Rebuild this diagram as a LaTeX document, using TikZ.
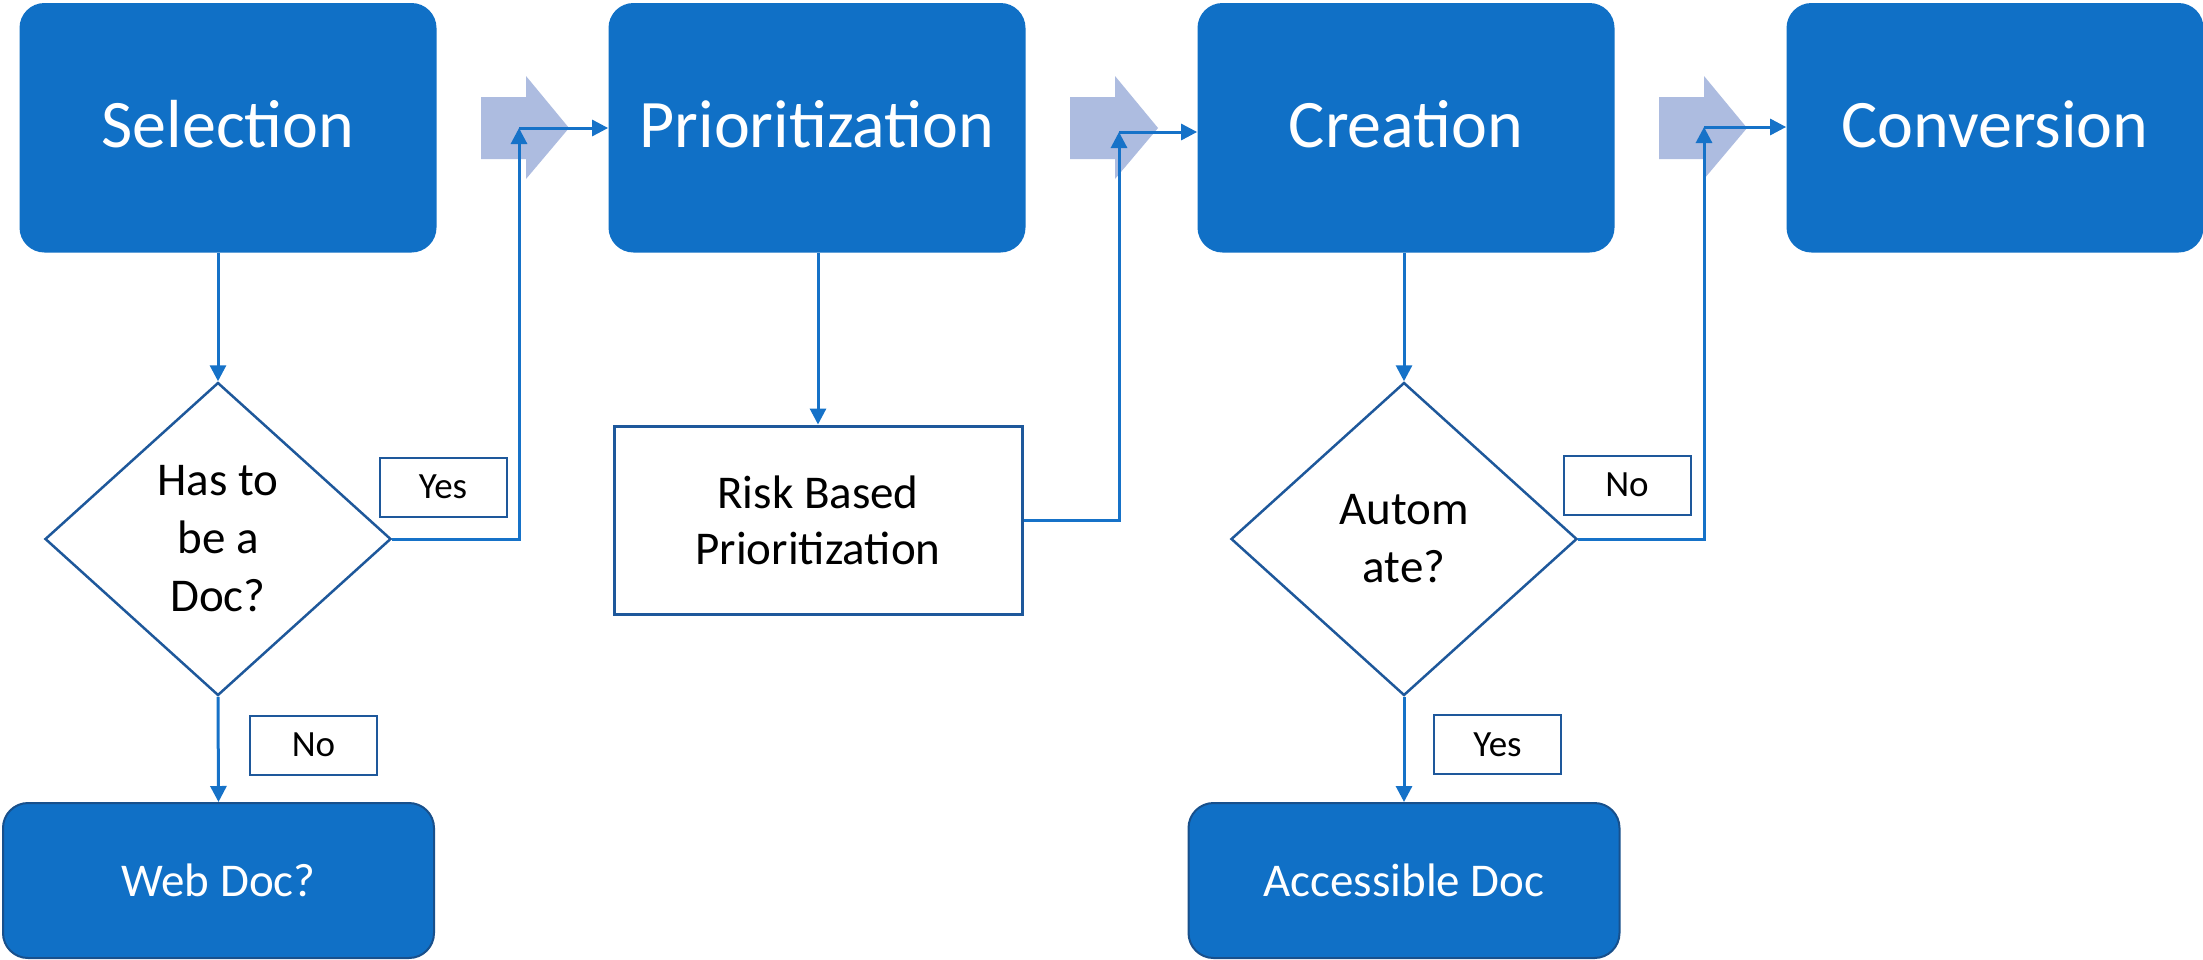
\documentclass[tikz,border=0pt]{standalone}
\usepackage{fontspec}
\setmainfont{Carlito}
\usetikzlibrary{shapes.geometric,arrows.meta}
\definecolor{boxblue}{RGB}{16,112,198}
\definecolor{linkblue}{RGB}{22,114,200}
\definecolor{edgeblue}{RGB}{30,88,155}
\definecolor{chev}{RGB}{173,188,224}
\definecolor{darkedge}{RGB}{24,80,140}
\begin{document}
\begin{tikzpicture}[x=0.5pt,y=-0.5pt,
  mainbox/.style={rectangle, rounded corners=12.5pt, fill=boxblue, text=white, minimum width=208.5pt, minimum height=124.75pt, inner sep=0pt, text depth=4pt, font=\fontsize{34}{40}\selectfont},
  endbox/.style={rectangle, rounded corners=12.5pt, fill=boxblue, draw=darkedge, line width=1pt, text=white, minimum width=215.5pt, minimum height=77.5pt, inner sep=0pt, font=\fontsize{23.5}{28}\selectfont},
  decision/.style={diamond, draw=edgeblue, line width=1.25pt, fill=white, minimum width=173pt, minimum height=156.5pt, inner sep=0pt, align=center, font=\fontsize{23.5}{29}\selectfont},
  tag/.style={rectangle, draw=edgeblue, line width=1pt, fill=white, minimum width=63.5pt, minimum height=29.5pt, inner sep=0pt, font=\fontsize{18.5}{22}\selectfont},
  riskbox/.style={rectangle, draw=edgeblue, line width=1.5pt, fill=white, minimum width=204pt, minimum height=94pt, inner sep=0pt, align=center, font=\fontsize{23.5}{28}\selectfont},
  conn/.style={draw=linkblue, line width=1.5pt, -{Triangle[length=8pt,width=8pt]}},
  chevron/.style={fill=chev, draw=none},
]
\useasboundingbox (0,0) rectangle (2203,959);
\fill[white] (0,0) rectangle (2203,959);

% chevrons
\foreach \a in {481,1070,1659}{
  \path[chevron] (\a,97) -- (\a+45,97) -- (\a+45,76) -- (\a+88,128) -- (\a+45,179) -- (\a+45,159) -- (\a,159) -- cycle;
}

% main boxes
\node[mainbox] (sel)  at (228,127.75)  {Selection};
\node[mainbox] (prio) at (817,127.75)  {Prioritization};
\node[mainbox] (crea) at (1406,127.75) {Creation};
\node[mainbox] (conv) at (1995,127.75) {Conversion};

% decisions
\node[decision] (dia1) at (218,539) {Has to\\be a\\Doc?};
\node[decision] (dia2) at (1404,539) {Autom\\ate?};

% risk box
\node[riskbox] (risk) at (818,520) {Risk Based\\Prioritization};

% end boxes
\node[endbox] (web) at (218.5,880.5) {Web Doc?};
\node[endbox] (acc) at (1404,880.5) {Accessible Doc};

% tags
\node[tag] (yes1) at (443,487) {Yes};
\node[tag] (no1)  at (313.5,745) {No};
\node[tag] (no2)  at (1627,485) {No};
\node[tag] (yes2) at (1497.5,744.5) {Yes};

% bend points
\coordinate (c1) at (519,128);
\coordinate (c2) at (1119,132);
\coordinate (c3) at (1704,127);

% vertical connectors
\draw[conn] (dia1.north |- sel.south) -- (dia1.north);
\draw[conn] (risk.north |- prio.south) -- (risk.north);
\draw[conn] (dia2.north |- crea.south) -- (dia2.north);
\draw[conn] (dia1.south) -- (web.north);
\draw[conn] (dia2.south) -- (acc.north);

% loop connectors
\draw[conn] (dia1.east) -| (c1);
\draw[conn] (c1) -- (c1 -| prio.west);
\draw[conn] (risk.east) -| (c2);
\draw[conn] (c2) -- (c2 -| crea.west);
\draw[conn] (dia2.east) -| (c3);
\draw[conn] (c3) -- (c3 -| conv.west);
\end{tikzpicture}
\end{document}
